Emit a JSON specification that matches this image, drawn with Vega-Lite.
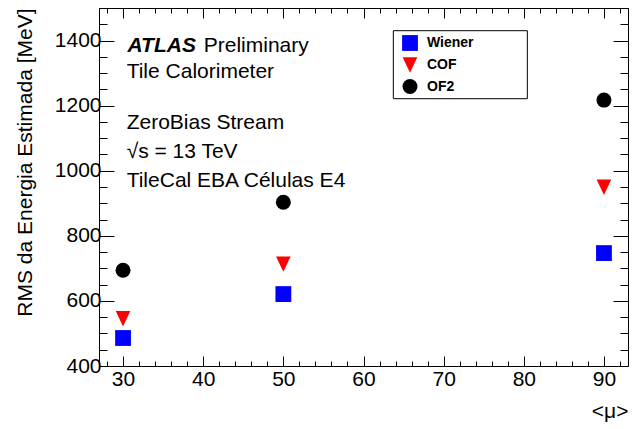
{
  "$schema": "https://vega.github.io/schema/vega-lite/v6.json",
  "width": 529,
  "height": 358,
  "autosize": {"type": "none"},
  "padding": {"left": 99, "top": 8, "right": 14, "bottom": 63},
  "background": "white",
  "config": {
    "view": {"stroke": "black", "strokeWidth": 1},
    "font": "Liberation Sans",
    "axis": {"domain": false, "grid": false, "tickColor": "black", "tickWidth": 1, "labelColor": "black", "titleColor": "black", "labelFont": "Liberation Sans", "titleFont": "Liberation Sans", "labelFontSize": 21, "titleFontSize": 21, "titleFontWeight": "normal", "labelFlush": false, "labelOverlap": false, "format": "d"}
  },
  "datasets": {
    "points": [
      {"mu": 30, "rms": 486, "method": "Wiener"},
      {"mu": 50, "rms": 621, "method": "Wiener"},
      {"mu": 90, "rms": 747, "method": "Wiener"},
      {"mu": 30, "rms": 545, "method": "COF"},
      {"mu": 50, "rms": 713, "method": "COF"},
      {"mu": 90, "rms": 949, "method": "COF"},
      {"mu": 30, "rms": 694, "method": "OF2"},
      {"mu": 50, "rms": 903, "method": "OF2"},
      {"mu": 90, "rms": 1217, "method": "OF2"}
    ],
    "legendbox": [
      {"mu1": 63.72, "mu2": 80.44, "rms1": 1221.3, "rms2": 1430.25}
    ],
    "atlas": [
      {"mu": 30.55, "rms": 1364.7, "label": "ATLAS"}
    ],
    "notes": [
      {"mu": 40.07, "rms": 1364.7, "label": "Preliminary"},
      {"mu": 30.45, "rms": 1284.7, "label": "Tile Calorimeter"},
      {"mu": 30.45, "rms": 1127.9, "label": "ZeroBias Stream"},
      {"mu": 30.45, "rms": 1038.7, "label": "√s = 13 TeV"},
      {"mu": 30.45, "rms": 949.5, "label": "TileCal EBA Células E4"}
    ]
  },
  "resolve": {"axis": {"x": "independent", "y": "independent"}},
  "layer": [
    {
      "data": {"name": "legendbox"},
      "mark": {"type": "rect", "fill": "white", "stroke": "black", "strokeWidth": 1},
      "encoding": {
        "x": {"field": "mu1", "type": "quantitative", "scale": {"domain": [27, 93], "nice": false, "zero": false}, "axis": null},
        "x2": {"field": "mu2"},
        "y": {"field": "rms1", "type": "quantitative", "scale": {"domain": [400, 1500], "nice": false, "zero": false}, "axis": null},
        "y2": {"field": "rms2"}
      }
    },
    {
      "data": {"name": "points"},
      "mark": {"type": "point", "filled": true, "opacity": 1, "strokeWidth": 0},
      "encoding": {
        "x": {
          "field": "mu", "type": "quantitative",
          "scale": {"domain": [27, 93], "nice": false, "zero": false},
          "axis": {
            "orient": "bottom",
            "values": [28,30,32,34,36,38,40,42,44,46,48,50,52,54,56,58,60,62,64,66,68,70,72,74,76,78,80,82,84,86,88,90,92],
            "labelExpr": "datum.value % 10 === 0 ? datum.label : ''",
            "tickSize": {"condition": {"test": "datum.value % 10 === 0", "value": -10}, "value": -5},
            "labelPadding": 12,
            "title": "<μ>",
            "titleAnchor": "end",
            "titlePadding": 6
          }
        },
        "y": {
          "field": "rms", "type": "quantitative",
          "scale": {"domain": [400, 1500], "nice": false, "zero": false},
          "axis": {
            "orient": "left",
            "values": [400,450,500,550,600,650,700,750,800,850,900,950,1000,1050,1100,1150,1200,1250,1300,1350,1400,1450,1500],
            "labelExpr": "datum.value % 200 === 0 ? datum.label : ''",
            "tickSize": {"condition": {"test": "datum.value % 200 === 0", "value": -15}, "value": -8},
            "labelPadding": 13,
            "title": "RMS da Energia Estimada [MeV]",
            "titleAnchor": "end",
            "titlePadding": 19
          }
        },
        "color": {
          "field": "method", "type": "nominal",
          "scale": {"domain": ["Wiener", "COF", "OF2"], "range": ["#0000ff", "#ff0000", "#000000"]},
          "legend": {
            "orient": "none", "legendX": 294, "legendY": 23,
            "title": null,
            "padding": 4, "rowPadding": 6, "symbolOffset": 5, "labelOffset": 9,
            "labelFont": "Liberation Sans", "labelFontSize": 14, "labelFontWeight": "bold", "labelColor": "black",
            "symbolStrokeWidth": 0, "symbolOpacity": 1
          }
        },
        "shape": {
          "field": "method", "type": "nominal",
          "scale": {"domain": ["Wiener", "COF", "OF2"], "range": ["square", "M-0.95,-1L0.95,-1L0,1Z", "circle"]}
        },
        "size": {
          "field": "method", "type": "nominal",
          "scale": {"domain": ["Wiener", "COF", "OF2"], "range": [250, 225, 216]}
        }
      }
    },
    {
      "data": {"name": "notes"},
      "mark": {"type": "text", "align": "left", "baseline": "alphabetic", "fontSize": 21, "font": "Liberation Sans", "color": "black"},
      "encoding": {
        "x": {
          "field": "mu", "type": "quantitative",
          "axis": {
            "orient": "top",
            "values": [28,30,32,34,36,38,40,42,44,46,48,50,52,54,56,58,60,62,64,66,68,70,72,74,76,78,80,82,84,86,88,90,92],
            "labels": false,
            "tickSize": {"condition": {"test": "datum.value % 10 === 0", "value": -10}, "value": -5},
            "title": null
          }
        },
        "y": {
          "field": "rms", "type": "quantitative",
          "axis": {
            "orient": "right",
            "values": [400,450,500,550,600,650,700,750,800,850,900,950,1000,1050,1100,1150,1200,1250,1300,1350,1400,1450,1500],
            "labels": false,
            "tickSize": {"condition": {"test": "datum.value % 200 === 0", "value": -15}, "value": -8},
            "title": null
          }
        },
        "text": {"field": "label"}
      }
    },
    {
      "data": {"name": "atlas"},
      "mark": {"type": "text", "align": "left", "baseline": "alphabetic", "fontSize": 21, "font": "Liberation Sans", "fontWeight": "bold", "fontStyle": "italic", "color": "black"},
      "encoding": {
        "x": {"field": "mu", "type": "quantitative", "axis": null},
        "y": {"field": "rms", "type": "quantitative", "axis": null},
        "text": {"field": "label"}
      }
    }
  ]
}
